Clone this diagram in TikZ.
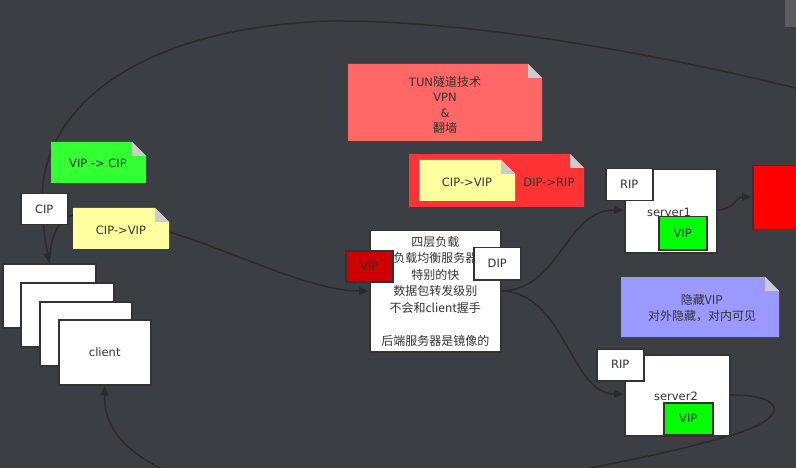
\documentclass[tikz,border=0pt]{standalone}
\usepackage{fontspec}
\setmainfont{Noto Sans CJK SC}
\newfontfamily\latinfont{DejaVu Sans}
\usetikzlibrary{arrows.meta}
\definecolor{bg}{HTML}{3B3E42}
\definecolor{ink}{HTML}{333333}
\definecolor{wire}{HTML}{2C2A2A}
\definecolor{foldgray}{HTML}{CCCCCC}
\definecolor{tunred}{HTML}{FF6666}
\definecolor{notered}{HTML}{FF3333}
\definecolor{noteyellow}{HTML}{FFFFA0}
\definecolor{notegreen}{HTML}{33FF33}
\definecolor{notepurple}{HTML}{9999FF}
\definecolor{vipred}{HTML}{CC0000}
\definecolor{vipgreen}{HTML}{00FF00}
\definecolor{barcol}{HTML}{5C5C5C}
\newcommand\mknote[5]{%
  \fill[#5] (#1,#2) -- ({#3-14},#2) -- (#3,{#2+14}) -- (#3,#4) -- (#1,#4) -- cycle;
  \fill[foldgray] ({#3-14},#2) -- ({#3-14},{#2+14}) -- (#3,{#2+14}) -- cycle;}
\tikzset{
  wbox/.style={draw=ink, line width=1.5pt, fill=white, text=ink, inner sep=0pt, anchor=north west},
  lat/.style={font=\latinfont\fontsize{11.5}{14}\selectfont},
  txt/.style={text=ink, inner sep=0pt, align=center, font=\fontsize{12}{16.5}\selectfont},
  conn/.style={draw=wire, line width=1.5pt, -{Triangle[length=10pt,width=8pt]}},
}
\begin{document}
\begin{tikzpicture}[x=1pt,y=-1pt, font=\fontsize{12}{16.5}\selectfont]
\useasboundingbox (0,0) rectangle (796,468);
\fill[bg] (0,0) rectangle (796,468);
\clip (0,0) rectangle (796,468);
\fill[barcol] (785,0) rectangle (796,27);

% client stack
\node[wbox, minimum width=93pt, minimum height=64pt] (c1) at (2,263) {};
\node[wbox, minimum width=93pt, minimum height=64pt] (c2) at (20,282) {};
\node[wbox, minimum width=92pt, minimum height=64pt] (c3) at (39,301) {};
\node[wbox, lat, minimum width=92pt, minimum height=65pt] (client) at (58,319) {client};

% connectors
\coordinate (loopstart) at (800,89);
\draw[conn] (loopstart) .. controls (620,45) and (450,20) .. (330,21)
  .. controls (150,27) and (42,100) .. (42,200)
  .. controls (43,230) and (46,245) .. (c1.north);

\coordinate (hidA) at (73,215);
\coordinate (hidB) at (169,232);
\coordinate (centerin) at (369,291);
\draw[conn] (c1.north) .. controls (50,235) and (60,218) .. (hidA) -- (hidB)
  .. controls (230,250) and (310,291) .. (centerin);

\coordinate (centerout) at (500,291);
\coordinate (s1in) at (624,210);
\coordinate (s2in) at (624,394);
\coordinate (s1out) at (716,210);
\coordinate (s2out) at (729,395);
\coordinate (redin) at (752,197);
\draw[conn] (centerout) .. controls (560,291) and (565,210) .. (s1in);
\draw[conn] (centerout) .. controls (565,291) and (570,394) .. (s2in);
\draw[conn] (s1out) .. controls (735,210) and (735,197) .. (redin);
\draw[conn] (s2out) .. controls (785,394) and (795,418) .. (725,437)
  .. controls (680,450) and (640,458) .. (590,468)
  .. controls (440,505) and (240,505) .. (160,468)
  .. controls (115,445) and (104,420) .. (client.south);

% notes
\mknote{348}{64}{542}{141}{tunred}
\node[txt, font=\fontsize{12}{15.4}\selectfont] (tun) at (445,105) {{\latinfont\fontsize{11.5}{15.4}\selectfont TUN}隧道技术\\{\latinfont\fontsize{11.5}{15.4}\selectfont VPN}\\{\latinfont\fontsize{11.5}{15.4}\selectfont\&}\\翻墙};
\mknote{409}{154}{584}{207}{notered}
\mknote{419}{160}{515}{201}{noteyellow}
\node[txt, lat] (tunin) at (467,182) {CIP->VIP};
\node[txt, lat] (tunout) at (549,182) {DIP->RIP};
\mknote{51}{142}{146}{183}{notegreen}
\node[txt, lat] (back) at (98,163) {VIP -> CIP};
\mknote{73}{208}{169}{249}{noteyellow}
\node[txt, lat] (go) at (121,230) {CIP->VIP};
\mknote{621}{277}{779}{337}{notepurple}
\node[txt] (hide) at (702,308) {隐藏VIP\\对外隐藏，对内可见};

% boxes
\node[wbox, lat, minimum width=47pt, minimum height=31pt] (cip) at (20,193) {CIP};
\node[wbox, minimum width=131pt, minimum height=121pt, align=center] (center) at (369,230)
  {四层负载\\负载均衡服务器\\特别的快\\数据包转发级别\\不会和client握手\\ \\后端服务器是镜像的};
\node[wbox, lat, fill=vipred, minimum width=47pt, minimum height=31pt] (vip) at (345,250) {VIP};
\node[wbox, lat, minimum width=47pt, minimum height=32pt] (dip) at (473,247) {DIP};

\node[wbox, minimum width=92pt, minimum height=83pt] (server1) at (624,169) {};
\node[txt, lat] (s1label) at (669,212) {server1};
\node[wbox, lat, minimum width=47pt, minimum height=32pt] (rip1) at (605,168) {RIP};
\node[wbox, lat, fill=vipgreen, minimum width=48pt, minimum height=33pt] (vip1) at (658,216) {VIP};

\node[wbox, fill=red, minimum width=50pt, minimum height=64pt] (redrect) at (752,165) {};

\node[wbox, minimum width=105pt, minimum height=81pt] (server2) at (624,354) {};
\node[txt, lat] (s2label) at (676,396) {server2};
\node[wbox, lat, minimum width=47pt, minimum height=32pt] (rip2) at (596,348) {RIP};
\node[wbox, lat, fill=vipgreen, minimum width=49pt, minimum height=32pt] (vip2) at (663,402) {VIP};
\end{tikzpicture}
\end{document}
